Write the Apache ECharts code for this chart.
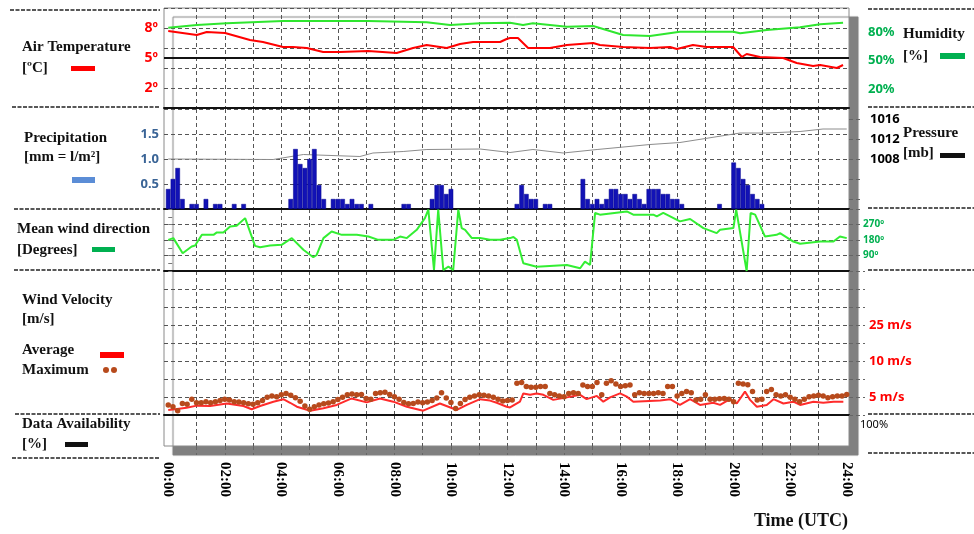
<!DOCTYPE html>
<html>
<head>
<meta charset="utf-8">
<script src="https://cdn.jsdelivr.net/npm/echarts@6/dist/echarts.min.js"></script>
<style>
  html, body { margin: 0; padding: 0; background: #fff; }
  #chart { width: 974px; height: 534px; }
</style>
</head>
<body>
<div id="chart"></div>
<script>
// ---- time axis ----
const hourTicks = [1, 2, 3, 4, 5, 6, 7, 8, 9, 10, 11, 12, 13, 14, 15, 16, 17, 18, 19, 20, 21, 22, 23];
const hourLabels = [0, 2, 4, 6, 8, 10, 12, 14, 16, 18, 20, 22, 24];

// ---- air temperature (ºC) ----
const temperatureHours = [0, 1.01, 1.36, 2.01, 2.89, 3.35, 4.06, 4.41, 4.9, 5.48, 6.08, 7.07, 8.08, 8.66, 9.14, 9.85, 10.32, 10.78, 11.09, 11.74, 11.97, 12.09, 12.37, 12.73, 13.5, 14.1, 15.03, 15.27, 16.09, 17.04, 17.75, 17.99, 18.56, 19.05, 19.98, 20.29, 20.46, 20.93, 21.75, 22.23, 22.81, 23.06, 23.65, 23.87];
const temperatureValues = [7.7, 7.3, 7.6, 7.5, 6.8, 6.6, 6.1, 6.1, 6.0, 5.6, 5.6, 5.7, 5.5, 6.0, 6.3, 6.0, 6.4, 6.6, 6.6, 6.6, 6.9, 7.0, 7.0, 6.0, 6.0, 6.3, 6.5, 6.3, 6.1, 6.0, 6.1, 5.9, 6.3, 6.1, 6.1, 5.1, 5.4, 5.1, 5.0, 4.5, 4.2, 4.3, 4.0, 4.3];
const temperatureTickValues = [2, 5, 8];

// ---- relative humidity (%) ----
const humidityHours = [0, 1.01, 2.07, 4.06, 7.07, 9.14, 9.97, 11.03, 12.09, 12.55, 12.9, 14.1, 15.03, 16.09, 17.04, 18.1, 19.98, 20.23, 21.17, 22.35, 23.06, 23.87];
const humidityValues = [84.3, 87.2, 88.9, 91.4, 91.4, 90.0, 87.2, 88.9, 89.6, 87.2, 88.9, 85.4, 86.1, 76.7, 75.6, 80.1, 80.1, 78.4, 81.9, 84.7, 87.9, 89.6];
const humidityTickValues = [20, 50, 80];

// ---- precipitation per 10 minutes (mm) ----
const precipMinutes = [0, 10, 20, 30, 50, 60, 80, 100, 110, 140, 160,
  260, 270, 280, 290, 300, 310, 320, 330,
  350, 360, 370, 380, 390, 400, 410, 430,
  500, 510,
  560, 570, 580, 590, 600,
  740, 750, 760, 770, 780,
  800, 810,
  880, 890, 900, 910, 920, 930, 940, 950, 960, 970, 980, 990, 1000, 1010, 1020, 1030, 1040, 1050, 1060, 1070, 1080, 1090,
  1170,
  1200, 1210, 1220, 1230, 1240, 1250, 1260];
const precipValues = [0.4, 0.6, 0.82, 0.2, 0.1, 0.1, 0.2, 0.1, 0.1, 0.1, 0.1,
  0.2, 1.2, 0.9, 0.82, 1.0, 1.2, 0.48, 0.2,
  0.2, 0.2, 0.2, 0.1, 0.2, 0.1, 0.1, 0.1,
  0.1, 0.1,
  0.2, 0.48, 0.48, 0.3, 0.4,
  0.1, 0.48, 0.3, 0.2, 0.2,
  0.1, 0.1,
  0.6, 0.2, 0.1, 0.2, 0.1, 0.2, 0.4, 0.4, 0.3, 0.3, 0.2, 0.3, 0.2, 0.1, 0.4, 0.4, 0.4, 0.3, 0.3, 0.2, 0.2, 0.1,
  0.1,
  0.93, 0.82, 0.6, 0.48, 0.3, 0.2, 0.1];
const precipTickValues = [0.5, 1.0, 1.5];

// ---- pressure (mb) ----
const pressureHours = [0, 3.71, 4.78, 6.78, 7.24, 8.31, 9.15, 11.03, 12.09, 12.9, 13.97, 15.17, 17.04, 18.1, 20.23, 21.18, 22.35, 23.16, 24];
const pressureValues = [1008.0, 1007.9, 1008.9, 1008.5, 1009.2, 1009.5, 1009.9, 1010.0, 1009.3, 1009.9, 1009.2, 1009.9, 1010.9, 1011.3, 1013.2, 1013.2, 1013.5, 1014.0, 1014.0];
const pressureTickValues = [1000, 1004, 1008, 1012, 1016];
const pressureLabelValues = [1008, 1012, 1016];

// ---- mean wind direction (degrees) ----
const windDirHours = [0, 0.18, 0.51, 0.83, 0.95, 1.19, 1.6, 1.72, 1.95, 2.19, 2.42, 2.72, 3.07, 3.25, 3.6, 4.01, 4.37, 4.78, 5.13, 5.25, 5.49, 5.78, 6.14, 6.67, 7.08, 7.43, 7.96, 8.2, 8.44, 8.79, 9.08, 9.2, 9.4, 9.55, 9.73, 9.91, 10.08, 10.26, 10.38, 10.5, 10.74, 11.03, 11.38, 11.74, 12.09, 12.21, 12.33, 12.56, 13.03, 14.1, 14.57, 14.74, 14.92, 15.1, 15.27, 16.22, 16.45, 17.16, 17.28, 17.51, 18.1, 18.46, 18.93, 19.4, 19.52, 19.99, 20.09, 20.46, 20.6, 20.76, 21.11, 21.52, 21.64, 22.11, 22.35, 23.06, 23.53, 23.76, 24];
const windDirValues = [181, 191, 103, 142, 148, 210, 210, 224, 224, 258, 263, 307, 146, 138, 148, 152, 191, 123, 80, 93, 191, 229, 210, 210, 200, 181, 181, 200, 191, 239, 307, 356, 6, 356, 6, 25, 6, 356, 249, 239, 191, 191, 181, 181, 191, 197, 181, 45, 25, 35, 16, 54, 35, 337, 327, 346, 327, 327, 317, 337, 288, 302, 249, 220, 239, 249, 356, 0, 337, 327, 200, 210, 220, 171, 158, 171, 171, 200, 191];
const windDirTickValues = [90, 180, 270];

// ---- wind velocity (m/s) ----
const windAvgHours = [0, 0.24, 0.65, 1.01, 1.48, 2.07, 2.66, 2.95, 3.25, 3.72, 4.07, 4.31, 4.55, 5.02, 5.49, 5.96, 6.49, 7.02, 7.49, 7.96, 8.44, 9.02, 9.61, 10.21, 10.56, 11.03, 11.38, 11.62, 11.97, 12.09, 12.44, 12.56, 12.8, 13.03, 13.27, 13.62, 14.1, 14.57, 14.8, 15.16, 15.39, 15.63, 15.98, 16.22, 16.45, 17.4, 17.75, 18.1, 18.46, 18.81, 19.28, 19.52, 19.87, 20.11, 20.4, 20.58, 20.82, 21.17, 21.41, 21.76, 22.11, 22.35, 22.82, 23.17, 23.53, 23.88];
const windAvgValues = [1.4, 1.6, 2.0, 2.6, 2.5, 3.2, 2.5, 1.6, 2.5, 3.7, 4.4, 3.4, 2.3, 1.2, 1.9, 2.8, 4.6, 3.5, 4.6, 3.7, 2.3, 1.2, 3.2, 1.4, 2.8, 4.4, 4.0, 3.4, 2.3, 2.1, 3.7, 6.0, 5.6, 6.0, 5.6, 4.2, 4.9, 5.6, 4.4, 5.3, 3.7, 4.9, 6.0, 5.1, 3.7, 4.0, 4.4, 2.8, 4.4, 2.8, 3.4, 2.8, 4.4, 3.2, 6.5, 4.2, 2.3, 2.8, 4.4, 3.2, 3.7, 2.8, 3.7, 3.4, 3.7, 3.7];
// maximum, one reading every 10 minutes from 00:00 to 24:00
const windMaxValues = [
  2.8, 2.3, 1.2, 3.2, 3.0, 4.4, 3.4, 3.4, 3.7, 3.4,
  3.7, 4.0, 4.4, 4.2, 3.7, 3.6, 3.4, 3.1, 3.0, 3.4,
  4.0, 4.9, 5.3, 5.1, 5.6, 6.0, 5.5, 4.8, 3.8, 2.5,
  1.6, 2.3, 2.8, 3.1, 3.3, 3.7, 4.3, 4.9, 5.6, 5.8,
  5.6, 5.7, 4.6, 4.4, 6.0, 6.2, 6.3, 5.7, 5.1, 4.4,
  3.5, 3.1, 3.2, 3.6, 3.4, 3.6, 4.0, 4.7, 6.2, 4.7,
  3.5, 1.8, 3.2, 4.3, 4.9, 5.3, 5.6, 5.5, 5.3, 4.9,
  4.4, 3.9, 4.0, 4.2, 8.8, 9.0, 7.9, 7.7, 7.7, 7.9,
  7.9, 6.0, 5.6, 5.3, 5.1, 6.0, 6.2, 6.0, 8.3, 7.9,
  7.9, 9.0, 5.6, 8.8, 9.5, 8.6, 7.9, 8.1, 8.3, 5.6,
  6.2, 6.0, 6.0, 6.0, 6.2, 6.0, 7.9, 7.9, 5.3, 6.0,
  6.5, 6.2, 4.2, 4.4, 5.6, 4.4, 4.4, 4.5, 4.6, 4.4,
  3.7, 8.8, 8.6, 8.4, 6.5, 4.2, 4.4, 6.5, 7.1, 5.6,
  5.3, 5.6, 4.9, 4.4, 3.7, 4.4, 5.1, 5.3, 5.5, 5.3,
  4.8, 5.1, 5.3, 5.3, 5.7];
const windTickValues = [5, 15, 25];
const windTickLabels = ['5 m/s', '10 m/s', '25 m/s'];

// ---- data availability (%) ----
const availabilityHours = [0, 24];
const availabilityValues = [100, 100];

// ---------------------------------------------------------------
const pairs = (xs, ys) => xs.map((x, i) => [x, ys[i]]);
const precipData = precipMinutes.map((m, i) => [m / 60, precipValues[i]]);
const windMaxData = windMaxValues.map((v, i) => [i * 10 / 60, v]);

const X_MIN = -0.15, X_MAX = 24.08;
const LEFT = 164, RIGHT = 125;
const dash = { type: [4, 3], color: '#555', width: 1 };
const tickDash = { type: [4, 3], color: '#666', width: 1 };
const labelSans = { fontFamily: '"Noto Sans"', fontWeight: 'bold' };

const panels = [
  { top: 8, height: 100 },   // temperature / humidity
  { top: 109, height: 100 }, // precipitation / pressure
  { top: 209, height: 62 },  // wind direction
  { top: 271, height: 144 }, // wind velocity
  { top: 415, height: 31 }   // data availability
];

const grid = panels.map(p => ({ left: LEFT, right: RIGHT, top: p.top, height: p.height, containLabel: false }));
grid.push({ left: LEFT, right: RIGHT, top: 8, height: 438, show: true, backgroundColor: '#fff',
  borderColor: '#8a8a8a', borderWidth: 1, shadowColor: '#808080', shadowOffsetX: 9, shadowOffsetY: 9, shadowBlur: 1, z: 0 });

const xAxis = panels.map((p, i) => {
  const last = i === panels.length - 1;
  return {
    gridIndex: i, type: 'value', min: X_MIN, max: X_MAX,
    axisLine: { show: !last, onZero: false, lineStyle: { color: '#111', width: 2 } },
    axisTick: { show: last, customValues: hourTicks, length: 9, lineStyle: tickDash },
    axisLabel: last ? {
      show: true, customValues: hourLabels, rotate: -90, margin: 16,
      fontFamily: '"Liberation Serif"', fontWeight: 'bold', fontSize: 15, color: '#000',
      formatter: v => (v < 10 ? '0' : '') + v + ':00'
    } : { show: false },
    splitLine: { show: true, lineStyle: dash }
  };
});
xAxis.push({ gridIndex: 5, type: 'value', min: X_MIN, max: X_MAX, show: false });

const hidden = { axisLine: { show: false }, axisTick: { show: false }, axisLabel: { show: false }, splitLine: { show: false } };

const yAxis = [
  // 0 temperature
  { gridIndex: 0, type: 'value', min: 0, max: 10, interval: 2, position: 'left',
    axisLine: { show: false }, axisTick: { show: false },
    axisLabel: { customValues: temperatureTickValues, formatter: v => v + 'º', color: '#ff0000', fontSize: 14, margin: 6, ...labelSans },
    splitLine: { show: true, lineStyle: dash } },
  // 1 humidity
  { gridIndex: 0, type: 'value', min: 0, max: 105, position: 'right',
    axisLine: { show: false }, axisTick: { show: false }, splitLine: { show: false },
    axisLabel: { customValues: humidityTickValues, formatter: v => v + '%', color: '#00b050', fontSize: 13, margin: 19, ...labelSans } },
  // 2 precipitation
  { gridIndex: 1, type: 'value', min: 0, max: 2, interval: 0.5, position: 'left',
    axisLine: { show: false }, axisTick: { show: false },
    axisLabel: { customValues: precipTickValues, formatter: v => v.toFixed(1), color: '#3a6496', fontSize: 13, margin: 5, ...labelSans },
    splitLine: { show: true, lineStyle: dash } },
  // 3 pressure
  { gridIndex: 1, type: 'value', min: 998, max: 1018, position: 'right',
    axisLine: { show: false }, splitLine: { show: false },
    axisTick: { show: true, customValues: pressureTickValues, length: 11, lineStyle: tickDash },
    axisLabel: { customValues: pressureLabelValues, formatter: v => String(v), color: '#000', fontSize: 13, margin: 21, padding: [4, 0, 0, 0], ...labelSans } },
  // 4 wind direction (minor ticks)
  { gridIndex: 2, type: 'value', min: 0, max: 360, interval: 45, position: 'left',
    axisLine: { show: false }, axisLabel: { show: false }, splitLine: { show: false },
    axisTick: { show: true, inside: true, length: 4, lineStyle: { color: '#777' } } },
  // 5 wind direction (labels, grid)
  { gridIndex: 2, type: 'value', min: 0, max: 360, interval: 90, position: 'right',
    axisLine: { show: false },
    axisTick: { show: true, length: 11, lineStyle: tickDash },
    axisLabel: { customValues: windDirTickValues, formatter: v => v + 'º', color: '#00b050', fontSize: 10, margin: 14, ...labelSans },
    splitLine: { show: true, lineStyle: dash } },
  // 6 wind velocity
  { gridIndex: 3, type: 'value', min: 0, max: 40, interval: 5, position: 'left',
    axisLine: { show: false }, axisTick: { show: false }, axisLabel: { show: false },
    splitLine: { show: true, lineStyle: dash } },
  // 7 wind velocity labels
  { gridIndex: 3, type: 'value', min: 0, max: 40, interval: 5, position: 'right',
    axisLine: { show: false }, splitLine: { show: false },
    axisTick: { show: true, length: 16, lineStyle: tickDash },
    axisLabel: { customValues: windTickValues, formatter: v => windTickLabels[windTickValues.indexOf(v)], color: '#ff0000', fontSize: 13, margin: 20, ...labelSans } },
  // 8 availability
  { gridIndex: 4, type: 'value', min: 0, max: 100, position: 'left', ...hidden },
  // 9 availability label
  { gridIndex: 4, type: 'value', min: 0, max: 100, position: 'right',
    axisLine: { show: false }, axisTick: { show: false }, splitLine: { show: false },
    axisLabel: { customValues: [100], formatter: v => v + '%', color: '#000', fontSize: 11, margin: 11, verticalAlign: 'top', padding: [4, 0, 0, 0], fontFamily: '"Noto Sans"' } },
  // 10 frame
  { gridIndex: 5, type: 'value', show: false }
];

const series = [
  { type: 'line', name: 'Air Temperature', xAxisIndex: 0, yAxisIndex: 0, data: pairs(temperatureHours, temperatureValues),
    symbol: 'none', lineStyle: { color: '#ff0000', width: 2 }, z: 5,
    markLine: { silent: true, symbol: 'none', label: { show: false },
      lineStyle: { color: '#111', type: 'solid', width: 2 }, data: [{ yAxis: 5 }] } },
  { type: 'line', name: 'Humidity', xAxisIndex: 0, yAxisIndex: 1, data: pairs(humidityHours, humidityValues),
    symbol: 'none', lineStyle: { color: '#2fe62f', width: 2 }, z: 5 },
  { type: 'bar', name: 'Precipitation', xAxisIndex: 1, yAxisIndex: 2, data: precipData,
    barWidth: 4.6, itemStyle: { color: '#1212b6', borderColor: '#00008e', borderWidth: 0.5 }, z: 4 },
  { type: 'line', name: 'Pressure', xAxisIndex: 1, yAxisIndex: 3, data: pairs(pressureHours, pressureValues),
    symbol: 'none', lineStyle: { color: '#8c8c8c', width: 1 }, z: 3 },
  { type: 'line', name: 'Mean wind direction', xAxisIndex: 2, yAxisIndex: 4, data: pairs(windDirHours, windDirValues),
    symbol: 'none', lineStyle: { color: '#33ee33', width: 2 }, z: 5 },
  { type: 'line', name: 'Average', xAxisIndex: 3, yAxisIndex: 6, data: pairs(windAvgHours, windAvgValues),
    symbol: 'none', lineStyle: { color: '#ff2b2b', width: 2 }, z: 5 },
  { type: 'scatter', name: 'Maximum', xAxisIndex: 3, yAxisIndex: 6, data: windMaxData,
    symbol: 'circle', symbolSize: 5.5, itemStyle: { color: '#b74a1c', opacity: 1 }, z: 6 },
  { type: 'line', name: 'Data Availability', xAxisIndex: 4, yAxisIndex: 8, data: pairs(availabilityHours, availabilityValues),
    symbol: 'none', lineStyle: { color: '#111', width: 2 }, z: 5 }
];

// side captions, legend keys and separators
const serif = size => 'bold ' + size + 'px "Liberation Serif"';
const caption = (text, x, y, size) => ({ type: 'text', x, y, silent: true,
  style: { text, font: serif(size || 15), fill: '#111', verticalAlign: 'middle', align: 'left' } });
const sep = (x1, x2, y) => ({ type: 'line', silent: true, shape: { x1, y1: y, x2, y2: y },
  style: { stroke: '#222', lineWidth: 1.5, lineDash: [4, 1.5] } });
const key = (x, y, w, h, fill) => ({ type: 'rect', silent: true, shape: { x, y, width: w, height: h }, style: { fill } });

const graphic = [
  sep(10, 160, 10), sep(12, 160, 107), sep(14, 160, 209), sep(14, 160, 270), sep(15, 160, 414), sep(12, 160, 458),
  sep(868, 974, 9), sep(868, 974, 107), sep(868, 974, 208), sep(868, 974, 270), sep(868, 974, 414), sep(868, 974, 453),
  caption('Air Temperature', 22, 47), caption('[ºC]', 22, 68), key(71, 66, 24, 5, '#ff0000'),
  caption('Precipitation', 24, 138), caption('[mm = l/m²]', 24, 157), key(72, 177, 23, 6, '#5b8dd6'),
  caption('Mean wind direction', 17, 229), caption('[Degrees]', 17, 250), key(92, 247, 23, 5, '#00b050'),
  caption('Wind Velocity', 22, 300), caption('[m/s]', 22, 319),
  caption('Average', 22, 350), key(100, 352, 24, 6, '#ff0000'),
  caption('Maximum', 22, 370),
  { type: 'circle', silent: true, shape: { cx: 106, cy: 370, r: 3 }, style: { fill: '#b74a1c' } },
  { type: 'circle', silent: true, shape: { cx: 114, cy: 370, r: 3 }, style: { fill: '#b74a1c' } },
  caption('Data Availability', 22, 424), caption('[%]', 22, 444), key(65, 442, 23, 5, '#111'),
  caption('Humidity', 903, 34), caption('[%]', 903, 56), key(940, 53, 25, 6, '#00b050'),
  caption('Pressure', 903, 133), caption('[mb]', 903, 153), key(940, 153, 25, 5, '#111'),
  { type: 'text', x: 801, y: 521, silent: true,
    style: { text: 'Time (UTC)', font: serif(18), fill: '#111', align: 'center', verticalAlign: 'middle' } }
];

const chart = echarts.init(document.getElementById('chart'), null, { renderer: 'canvas' });
chart.setOption({
  animation: false,
  backgroundColor: '#fff',
  grid, xAxis, yAxis, series, graphic
});
</script>
</body>
</html>
